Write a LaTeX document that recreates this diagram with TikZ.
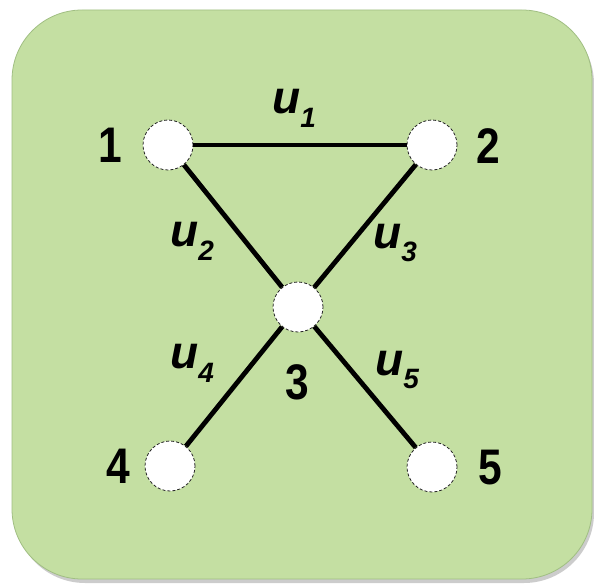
\documentclass[tikz,border=0pt]{standalone}
\usepackage{fontspec}
\setmainfont{Liberation Sans}
\definecolor{panel}{RGB}{196,223,162}
\definecolor{paneledge}{RGB}{160,190,130}
\begin{document}
\begin{tikzpicture}[x=1pt,y=-1pt,
  vert/.style={circle,draw=black!85,densely dashed,line width=0.8pt,fill=white,minimum size=50pt,inner sep=0pt},
  edge/.style={line width=4.8pt},
  numlbl/.style={font=\fontsize{50}{52}\selectfont\bfseries},
  elbl/.style={font=\fontsize{46}{48}\selectfont\bfseries\itshape}]
\useasboundingbox (0,0) rectangle (594,585);
\fill[black!20,rounded corners=70] (15,14) rectangle (594,583);
\fill[panel,rounded corners=70,draw=paneledge,line width=0.8pt] (12,10) rectangle (592,579);
\node[vert] (n1) at (168,145) {};
\node[vert] (n2) at (432,145) {};
\node[vert] (n3) at (298,307) {};
\node[vert] (n4) at (170,466) {};
\node[vert] (n5) at (432,467) {};
\draw[edge] (n1) -- (n2);
\draw[edge] (n1) -- (n3);
\draw[edge] (n2) -- (n3);
\draw[edge] (n3) -- (n4);
\draw[edge] (n3) -- (n5);
\node[numlbl] (l1) at (110,145) {\scalebox{0.85}[1]{1}};
\node[numlbl] (l2) at (488,146) {\scalebox{0.85}[1]{2}};
\node[numlbl] (l3) at (297,382) {\scalebox{0.85}[1]{3}};
\node[numlbl] (l4) at (118,466) {\scalebox{0.85}[1]{4}};
\node[numlbl] (l5) at (490,468) {\scalebox{0.85}[1]{5}};
\node[elbl] (u1) at (294,108) {u\raisebox{-0.3em}{\fontsize{28}{28}\selectfont 1}};
\node[elbl] (u2) at (192,241) {u\raisebox{-0.3em}{\fontsize{28}{28}\selectfont 2}};
\node[elbl] (u3) at (395,243) {u\raisebox{-0.3em}{\fontsize{28}{28}\selectfont 3}};
\node[elbl] (u4) at (192,363) {u\raisebox{-0.3em}{\fontsize{28}{28}\selectfont 4}};
\node[elbl] (u5) at (397,370) {u\raisebox{-0.3em}{\fontsize{28}{28}\selectfont 5}};
\end{tikzpicture}
\end{document}
